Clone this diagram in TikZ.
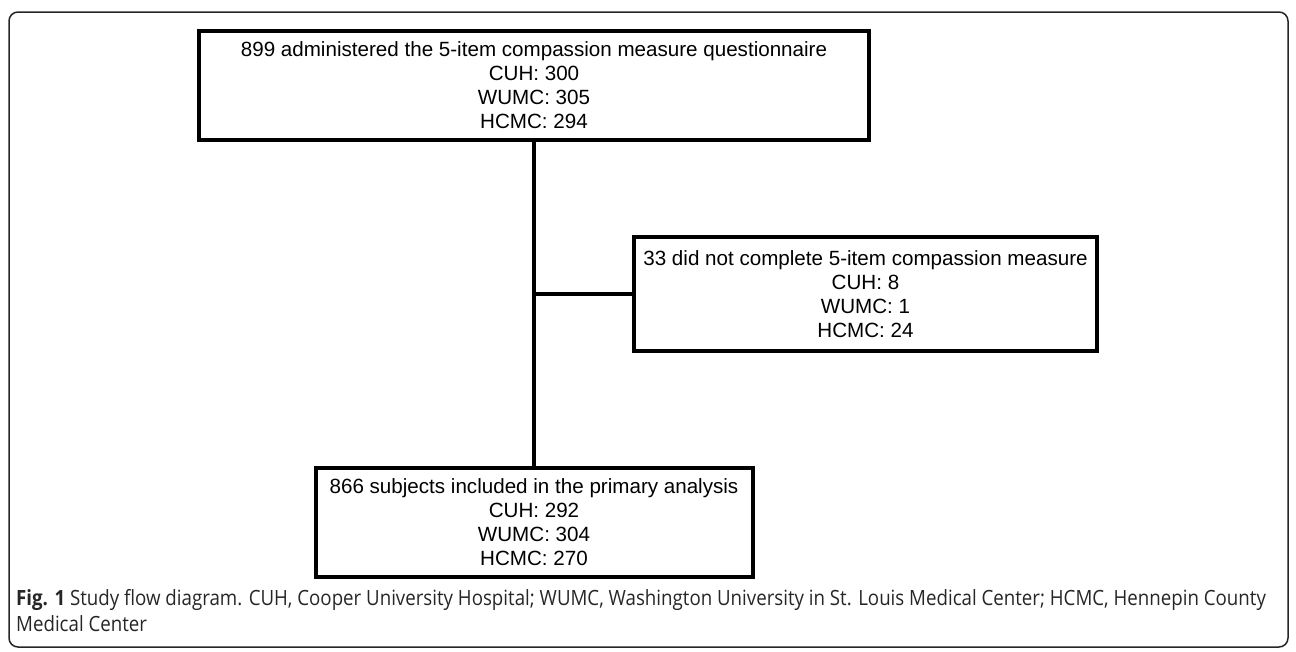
\documentclass[tikz,border=0pt]{standalone}
\usepackage{fontspec}
\setmainfont{Liberation Sans}
\newfontfamily\capfont[FakeStretch=0.89]{Open Sans}
\usetikzlibrary{positioning}

\begin{document}
\begin{tikzpicture}[x=1pt, y=-1pt,
		flowbox/.style={draw, line width=4pt, align=center, inner sep=0pt,
			font=\fontsize{20.6}{24}\selectfont},
		link/.style={line width=4pt},
		frame/.style={draw=black!85, line width=1.5pt, rounded corners=9pt}
		]
	\useasboundingbox (0,0) rectangle (1296,651);
	\draw [frame] (9,12) rectangle (1288,647);
	% boxes of the flow
	\node [flowbox, minimum width=670pt, minimum height=109pt] (admin) at (534,85.5)
		{899 administered the 5-item compassion measure questionnaire\\CUH: 300\\WUMC: 305\\HCMC: 294};
	\node [flowbox, minimum width=463pt, minimum height=114pt] (excl) at (865.5,294)
		{33 did not complete 5-item compassion measure\\CUH: 8\\WUMC: 1\\HCMC: 24};
	\node [flowbox, minimum width=437pt, minimum height=109pt] (incl) at (534,522.5)
		{866 subjects included in the primary analysis\\CUH: 292\\WUMC: 304\\HCMC: 270};
	\coordinate (split) at (admin.south |- excl.west);
	\draw [link] (admin.south) -- (incl.north);
	\draw [link] (split) -- (excl.west);
	% caption
	\node [anchor=north west, align=left, inner sep=0pt, text=black!85,
		font=\capfont\fontsize{21}{26}\selectfont] (caption) at (16,589)
		{\textbf{Fig. 1} Study flow diagram. CUH, Cooper University Hospital; WUMC, Washington University in St. Louis Medical Center; HCMC, Hennepin County\\Medical Center};
\end{tikzpicture}
\end{document}
